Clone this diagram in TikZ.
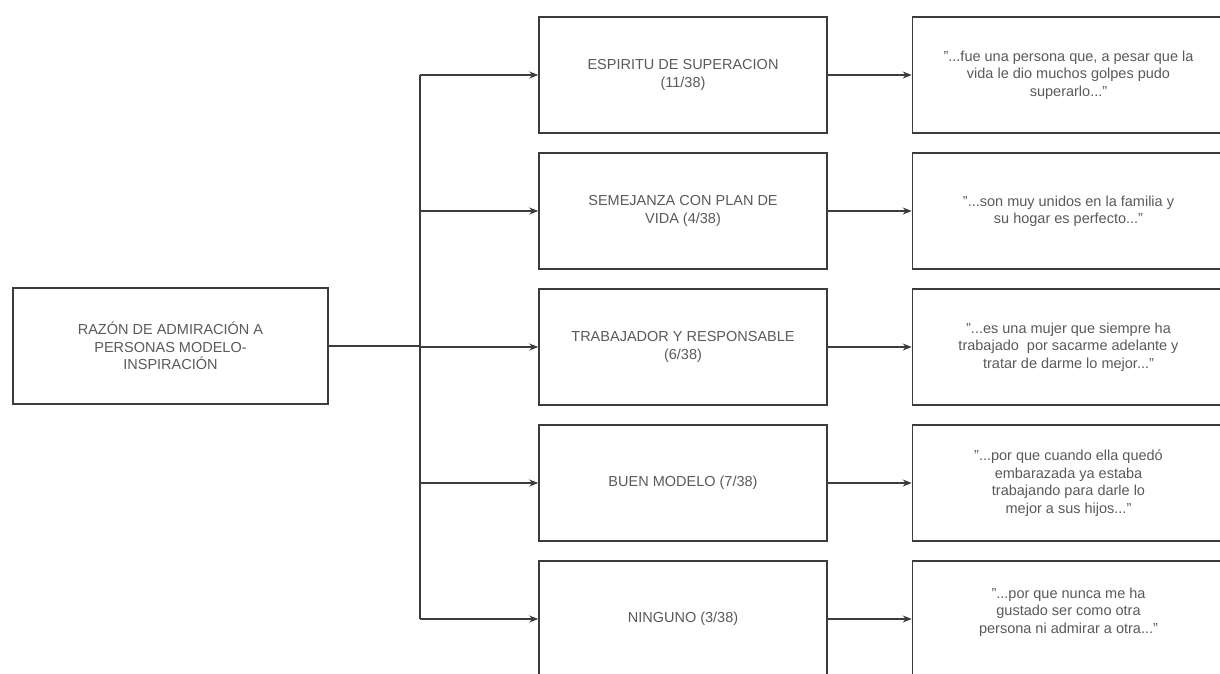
\documentclass[tikz,border=0pt]{standalone}
\usepackage{fontspec}
\setmainfont{Liberation Sans}
\usepackage{xcolor}
\usetikzlibrary{positioning}
\usetikzlibrary{arrows.meta}
\definecolor{linegray}{HTML}{3C3C3C}
\definecolor{textgray}{HTML}{5A5A5A}

\begin{document}
\begin{tikzpicture}[x=1pt, y=1pt, node distance=18.5pt and 84pt, line width=1.5pt, linegray,
boxnode/.style={rectangle, draw=linegray, fill=white, line width=1.5pt, minimum width=288pt, minimum height=116pt, inner sep=0pt, align=center, text=textgray, font=\fontsize{14.5}{17.5}\selectfont},
rootnode/.style={boxnode, minimum width=315pt},
quotenode/.style={boxnode, minimum width=312pt},
>={Stealth[length=9pt, width=7pt]}]
\useasboundingbox (0,0) rectangle (1220,-673);
\clip (0,0) rectangle (1220,-673);

\node[rootnode] (root) at (170.5,-346) {RAZÓN DE ADMIRACIÓN A\\PERSONAS MODELO-\\INSPIRACIÓN};
\node[boxnode] (m1) at (683,-75) {ESPIRITU DE SUPERACION\\(11/38)};
\node[boxnode] (m2) [below=of m1] {SEMEJANZA CON PLAN DE\\VIDA (4/38)};
\node[boxnode] (m3) [below=of m2] {TRABAJADOR Y RESPONSABLE\\(6/38)};
\node[boxnode] (m4) [below=of m3] {BUEN MODELO (7/38)};
\node[boxnode] (m5) [below=of m4] {NINGUNO (3/38)};
\node[quotenode] (q1) [right=of m1] {"...fue una persona que, a pesar que la\\vida le dio muchos golpes pudo\\superarlo..."};
\node[quotenode] (q2) [right=of m2] {"...son muy unidos en la familia y\\su hogar es perfecto..."};
\node[quotenode] (q3) [right=of m3] {"...es una mujer que siempre ha\\trabajado\ \ por sacarme adelante y\\tratar de darme lo mejor..."};
\node[quotenode] (q4) [right=of m4] {"...por que cuando ella quedó\\embarazada ya estaba\\trabajando para darle lo\\mejor a sus hijos..."};
\node[quotenode] (q5) [right=of m5] {"...por que nunca me ha\\gustado ser como otra\\persona ni admirar a otra..."\\\mbox{}};
\coordinate (split) at (420,-346);

\draw (root.east) -- (split);
\draw (split |- m1) -- (split |- m5);
\draw[->] (split |- m1) -- (m1.west);
\draw[->] (split |- m2) -- (m2.west);
\draw[->] (split |- m3) -- (m3.west);
\draw[->] (split |- m4) -- (m4.west);
\draw[->] (split |- m5) -- (m5.west);
\draw[->] (m1.east) -- (q1.west);
\draw[->] (m2.east) -- (q2.west);
\draw[->] (m3.east) -- (q3.west);
\draw[->] (m4.east) -- (q4.west);
\draw[->] (m5.east) -- (q5.west);
\end{tikzpicture}
\end{document}
